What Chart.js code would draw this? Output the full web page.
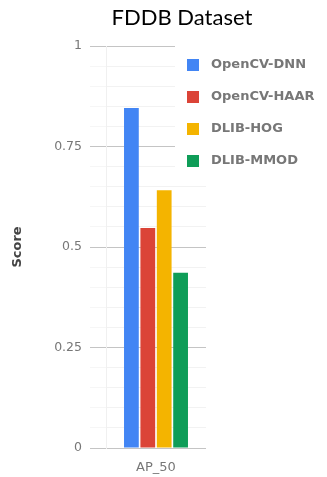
<!DOCTYPE html>
<html>
<head>
<meta charset="utf-8">
<script src="https://cdn.jsdelivr.net/npm/chart.js@4.4.0/dist/chart.umd.min.js"></script>
<style>
html, body { margin: 0; padding: 0; background: #fff; overflow: hidden; }
#wrap { position: relative; width: 327px; height: 477px; }
</style>
</head>
<body>
<div id="wrap"><canvas id="grafico" width="327" height="477"></canvas></div>
<script>
// dados
const categories = ['AP_50'];
const seriesNames = ['OpenCV-DNN', 'OpenCV-HAAR', 'DLIB-HOG', 'DLIB-MMOD'];
const dnnValues = [0.846];
const haarValues = [0.547];
const hogValues = [0.641];
const mmodValues = [0.436];
const yTickLabels = ['0', '0.25', '0.5', '0.75', '1'];
const chartTitle = 'FDDB Dataset';
const yTitle = 'Score';

const seriesColors = ['#4285f4', '#db4437', '#f4b400', '#0f9d58'];
const seriesValues = [dnnValues, haarValues, hogValues, mmodValues];

function isMajor(v) {
    return Math.abs(v * 4 - Math.round(v * 4)) < 1e-6;
}

// título e legenda desenhados à mão
const extras = {
    id: 'extras',
    afterDraw(chart) {
        const c = chart.ctx;
        c.save();
        c.fillStyle = '#000';
        c.font = '22px Lato';
        c.textAlign = 'center';
        c.textBaseline = 'alphabetic';
        c.fillText(chartTitle, 182, 25);

        c.fillStyle = '#fff';
        c.fillRect(175, 38, 152, 146);

        c.textAlign = 'left';
        c.textBaseline = 'middle';
        c.font = 'bold 13px "DejaVu Sans"';
        chart.data.datasets.forEach((ds, i) => {
            const y = 65 + i * 32;
            c.fillStyle = ds.backgroundColor;
            c.fillRect(187, y - 6, 12, 12);
            c.fillStyle = '#777';
            c.fillText(ds.label, 211, y);
        });
        c.restore();
    }
};

const ctx = document.getElementById('grafico').getContext('2d');

const chart = new Chart(ctx, {
    type: 'bar',
    data: {
        labels: categories,
        datasets: seriesNames.map((name, i) => ({
            label: name,
            data: seriesValues[i],
            backgroundColor: seriesColors[i],
            borderWidth: 0,
            barPercentage: 0.9,
            categoryPercentage: 0.656
        }))
    },
    options: {
        responsive: false,
        animation: false,
        layout: {
            padding: { top: 46, right: 121, left: 0, bottom: 0 }
        },
        scales: {
            x: {
                grid: { display: false },
                border: { display: false },
                ticks: {
                    color: '#777',
                    font: { family: 'DejaVu Sans', size: 13 },
                    padding: 4
                },
                afterFit(scale) { scale.height = 29; }
            },
            y: {
                min: 0,
                max: 1,
                border: { display: true, color: '#f0f0f0' },
                grid: {
                    color: c => (c.tick && isMajor(c.tick.value)) ? '#c4c4c4' : '#f2f2f2',
                    tickColor: c => (c.tick && isMajor(c.tick.value)) ? '#c4c4c4' : '#f6f6f6',
                    tickLength: 16
                },
                ticks: {
                    stepSize: 0.05,
                    autoSkip: false,
                    padding: 8,
                    color: '#777',
                    font: { family: 'DejaVu Sans', size: 12.5 },
                    callback: v => isMajor(v) ? yTickLabels[Math.round(v * 4)] : ''
                },
                title: {
                    display: true,
                    text: yTitle,
                    color: '#444',
                    font: { family: 'DejaVu Sans', size: 13, weight: 'bold' },
                    padding: { top: 10, bottom: 0 }
                },
                afterFit(scale) { scale.width = 106; }
            }
        },
        plugins: {
            legend: { display: false },
            tooltip: { enabled: false }
        }
    },
    plugins: [extras]
});
</script>
</body>
</html>
